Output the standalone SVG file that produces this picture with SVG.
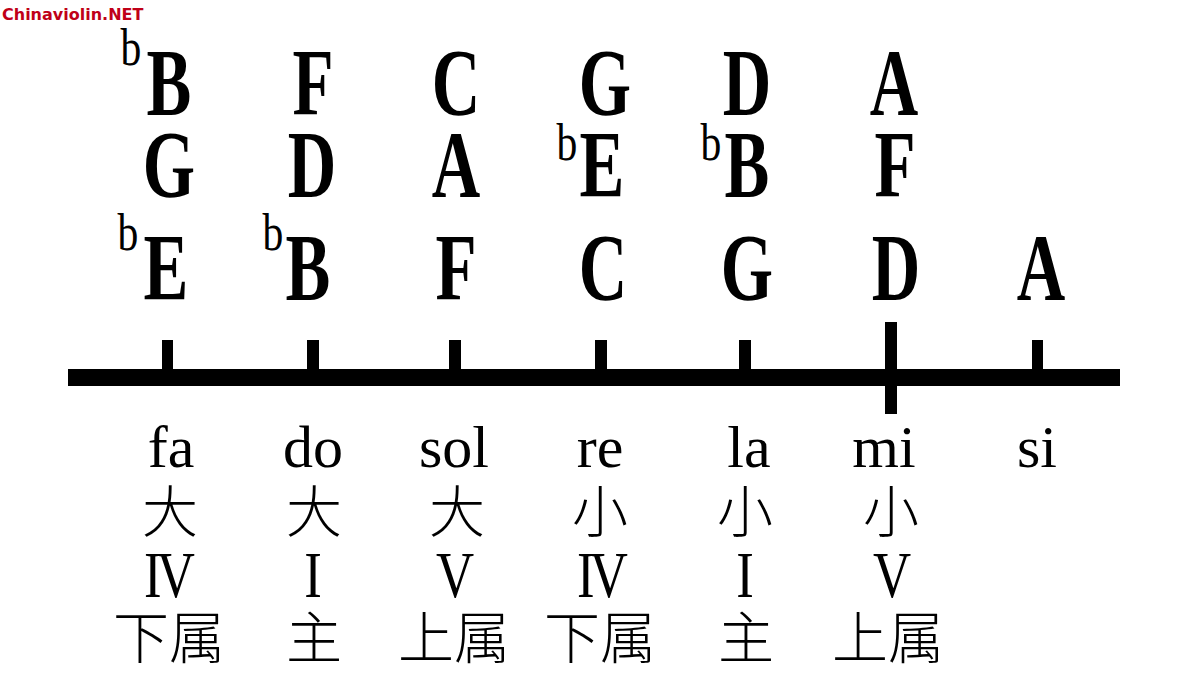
<svg xmlns="http://www.w3.org/2000/svg" width="1182" height="691" viewBox="0 0 1182 691">
<style>
.L{font-family:"Liberation Serif","DejaVu Serif",serif;font-weight:bold;font-size:96px;fill:#000;text-anchor:middle}
.f{font-family:"Liberation Serif","DejaVu Serif",serif;font-size:52px;fill:#000;text-anchor:middle}
.s{font-family:"Liberation Serif","DejaVu Serif",serif;font-size:60px;fill:#000;text-anchor:middle}
.c{font-family:"Noto Sans CJK SC","Noto Sans",sans-serif;font-weight:300;font-size:56px;fill:#000;text-anchor:middle}
.r{font-family:"Liberation Serif","DejaVu Serif",serif;font-size:66px;fill:#000;text-anchor:middle}
.w{font-family:"DejaVu Sans","Liberation Sans",sans-serif;font-weight:bold;font-size:16px;fill:#c00018}
</style>
<rect width="1182" height="691" fill="#fff"/>
<text class="w" x="2" y="20">Chinaviolin.NET</text>
<g id="axis">
<rect x="68" y="369" width="1052" height="17" fill="#000"/>
<rect x="162" y="340" width="11" height="32" fill="#000"/>
<rect x="307" y="340" width="12" height="32" fill="#000"/>
<rect x="449" y="340" width="12" height="32" fill="#000"/>
<rect x="595" y="340" width="12" height="32" fill="#000"/>
<rect x="739" y="340" width="12" height="32" fill="#000"/>
<rect x="885" y="322" width="12" height="92" fill="#000"/>
<rect x="1032" y="340" width="11" height="32" fill="#000"/>
</g>
<g id="col-fa">
<text class="f" transform="translate(131,65) scale(0.8,1)">b</text>
<text class="L" transform="translate(169,115) scale(0.7,1)">B</text>
<text class="L" transform="translate(169,197) scale(0.7,1)">G</text>
<text class="f" transform="translate(128,250) scale(0.8,1)">b</text>
<text class="L" transform="translate(166,300) scale(0.7,1)">E</text>
<text class="s" x="171" y="467">fa</text>
<text class="c" x="170" y="532">大</text>
<text class="r" transform="translate(167,597) scale(0.8,1)" letter-spacing="-6">IV</text>
<text class="c" x="169" y="658">下属</text>
</g>
<g id="col-do">
<text class="L" transform="translate(313,115) scale(0.7,1)">F</text>
<text class="L" transform="translate(312,197) scale(0.7,1)">D</text>
<text class="f" transform="translate(273,250) scale(0.8,1)">b</text>
<text class="L" transform="translate(308,300) scale(0.7,1)">B</text>
<text class="s" x="313" y="467">do</text>
<text class="c" x="314" y="532">大</text>
<text class="r" transform="translate(313,597) scale(0.8,1)">I</text>
<text class="c" x="314" y="658">主</text>
</g>
<g id="col-sol">
<text class="L" transform="translate(456,115) scale(0.7,1)">C</text>
<text class="L" transform="translate(456,197) scale(0.7,1)">A</text>
<text class="L" transform="translate(456,300) scale(0.7,1)">F</text>
<text class="s" x="454" y="467">sol</text>
<text class="c" x="457" y="532">大</text>
<text class="r" transform="translate(455,597) scale(0.8,1)">V</text>
<text class="c" x="454" y="658">上属</text>
</g>
<g id="col-re">
<text class="L" transform="translate(605,115) scale(0.7,1)">G</text>
<text class="f" transform="translate(567,160) scale(0.8,1)">b</text>
<text class="L" transform="translate(602,197) scale(0.7,1)">E</text>
<text class="L" transform="translate(603,300) scale(0.7,1)">C</text>
<text class="s" x="600" y="467">re</text>
<text class="c" x="600" y="532">小</text>
<text class="r" transform="translate(600,597) scale(0.8,1)" letter-spacing="-6">IV</text>
<text class="c" x="600" y="658">下属</text>
</g>
<g id="col-la">
<text class="L" transform="translate(747,115) scale(0.7,1)">D</text>
<text class="f" transform="translate(711,160) scale(0.8,1)">b</text>
<text class="L" transform="translate(747,197) scale(0.7,1)">B</text>
<text class="L" transform="translate(747,300) scale(0.7,1)">G</text>
<text class="s" x="749" y="467">la</text>
<text class="c" x="745" y="532">小</text>
<text class="r" transform="translate(745,597) scale(0.8,1)">I</text>
<text class="c" x="746" y="658">主</text>
</g>
<g id="col-mi">
<text class="L" transform="translate(894,115) scale(0.7,1)">A</text>
<text class="L" transform="translate(895,197) scale(0.7,1)">F</text>
<text class="L" transform="translate(896,300) scale(0.7,1)">D</text>
<text class="s" x="884" y="467">mi</text>
<text class="c" x="891" y="532">小</text>
<text class="r" transform="translate(892,597) scale(0.8,1)">V</text>
<text class="c" x="888" y="658">上属</text>
</g>
<g id="col-si">
<text class="L" transform="translate(1041,300) scale(0.7,1)">A</text>
<text class="s" x="1037" y="467">si</text>
</g>
</svg>
